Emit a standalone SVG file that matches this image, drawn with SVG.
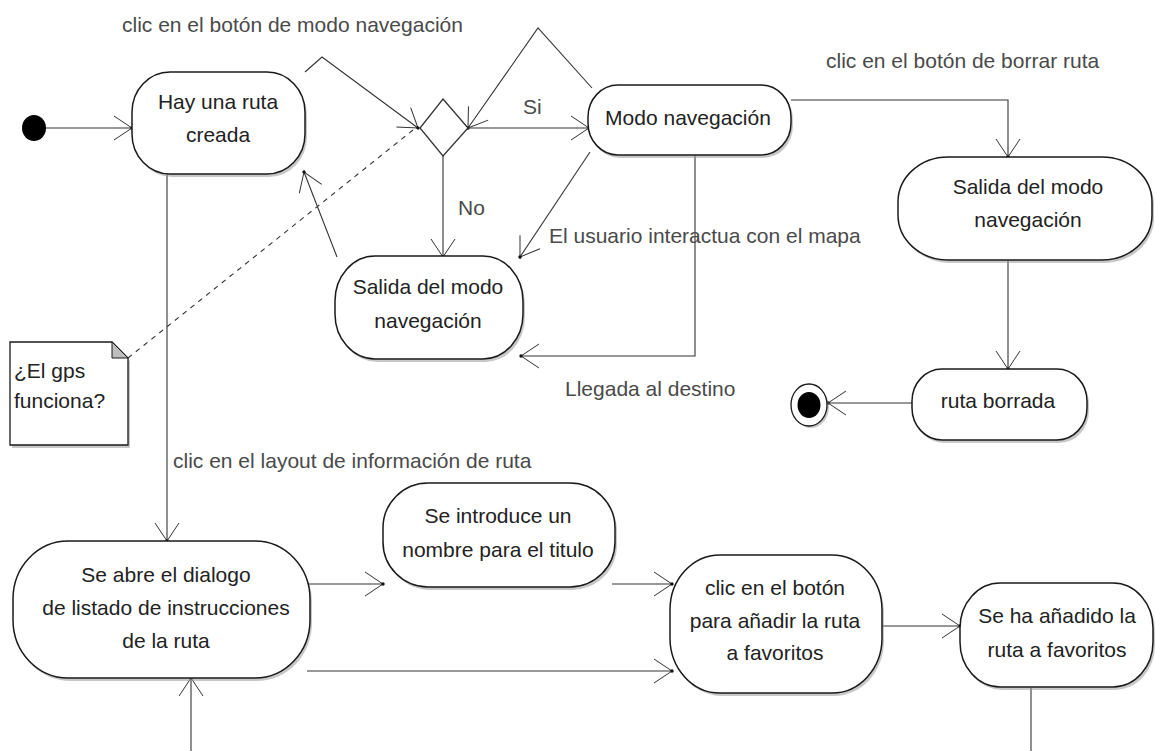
<svg xmlns="http://www.w3.org/2000/svg" width="1155" height="751" viewBox="0 0 1155 751">
<style>
.node rect.sh{fill:#9a9a9a;opacity:0.55}
.node rect.bx{fill:#fff;stroke:#1a1a1a;stroke-width:1.5}
.nt{font-family:"Liberation Sans",Arial,sans-serif;font-size:21px;fill:#222;text-anchor:middle}
.lbl{font-family:"Liberation Sans",Arial,sans-serif;font-size:21px;fill:#4a4a4a}
.c{fill:none;stroke:#333;stroke-width:1.1}
.dash{stroke-dasharray:5 5}
</style>
<defs>
<marker id="arr" markerUnits="userSpaceOnUse" markerWidth="30" markerHeight="30" refX="0" refY="0" orient="auto" overflow="visible">
<path d="M-18,-12 L0,0 L-18,12" fill="none" stroke="#333" stroke-width="1"/>
<circle r="1.7" fill="#111"/>
</marker>
</defs>
<rect width="1155" height="751" fill="#fff"/>

<g id="connectors">
<path class="c" d="M46,128 L132,128" marker-end="url(#arr)"/>
<path class="c" d="M305,72 L322,57 L418,128" marker-end="url(#arr)"/>
<path class="c" d="M592,88 L538,28 L468,128" marker-end="url(#arr)"/>
<path class="c" d="M468,128 L589,128" marker-end="url(#arr)"/>
<path class="c" d="M443,156 L443,257" marker-end="url(#arr)"/>
<path class="c" d="M337,257 L304,172" marker-end="url(#arr)"/>
<path class="c dash" d="M128,358 L413,130"/>
<path class="c" d="M590,152 L520,257" marker-end="url(#arr)"/>
<path class="c" d="M695,155 L695,356 L521,356" marker-end="url(#arr)"/>
<path class="c" d="M791,100 L1008,100 L1008,157" marker-end="url(#arr)"/>
<path class="c" d="M1008,260 L1008,369" marker-end="url(#arr)"/>
<path class="c" d="M912,403 L828,403" marker-end="url(#arr)"/>
<path class="c" d="M167,174 L167,541" marker-end="url(#arr)"/>
<path class="c" d="M307,584 L383,584" marker-end="url(#arr)"/>
<path class="c" d="M612,584 L672,584" marker-end="url(#arr)"/>
<path class="c" d="M307,671 L672,671" marker-end="url(#arr)"/>
<path class="c" d="M880,626 L960,626" marker-end="url(#arr)"/>
<path class="c" d="M1031,688 L1031,751"/>
<path class="c" d="M191,751 L191,678" marker-end="url(#arr)"/>
</g>

<g id="labels">
<text class="lbl" x="122" y="32">clic en el botón de modo navegación</text>
<text class="lbl" x="523" y="114">Si</text>
<text class="lbl" x="458" y="215">No</text>
<text class="lbl" x="826" y="68">clic en el botón de borrar ruta</text>
<text class="lbl" x="549" y="243">El usuario interactua con el mapa</text>
<text class="lbl" x="565" y="396">Llegada al destino</text>
<text class="lbl" x="173" y="468">clic en el layout de información de ruta</text>
</g>

<g id="start">
<ellipse cx="34" cy="128" rx="12" ry="13" fill="#000"/>
</g>

<g id="decision">
<polygon points="443,99 468,128 443,156 420,128" fill="#fff" stroke="#333" stroke-width="1.3"/>
</g>

<g id="n-hay" class="node">
<rect class="sh" x="134" y="75" width="173" height="102" rx="38" ry="40"/>
<rect class="bx" x="132" y="72" width="173" height="102" rx="38" ry="40"/>
<text class="nt"><tspan x="218" y="109">Hay una ruta</tspan><tspan x="218" y="142">creada</tspan></text>
</g>

<g id="n-modo" class="node">
<rect class="sh" x="590" y="88" width="203" height="70" rx="30" ry="32"/>
<rect class="bx" x="588" y="85" width="203" height="70" rx="30" ry="32"/>
<text class="nt" x="688" y="125">Modo navegación</text>
</g>

<g id="n-salida1" class="node">
<rect class="sh" x="337" y="259" width="188" height="103" rx="40" ry="45"/>
<rect class="bx" x="335" y="256" width="188" height="103" rx="40" ry="45"/>
<text class="nt"><tspan x="428" y="294">Salida del modo</tspan><tspan x="428" y="328">navegación</tspan></text>
</g>

<g id="n-salida2" class="node">
<rect class="sh" x="900" y="160" width="254" height="103" rx="50" ry="45"/>
<rect class="bx" x="898" y="157" width="254" height="103" rx="50" ry="45"/>
<text class="nt"><tspan x="1028" y="194">Salida del modo</tspan><tspan x="1028" y="227">navegación</tspan></text>
</g>

<g id="n-borrada" class="node">
<rect class="sh" x="914" y="372" width="175" height="71" rx="30" ry="32"/>
<rect class="bx" x="912" y="369" width="175" height="71" rx="30" ry="32"/>
<text class="nt" x="998" y="408">ruta borrada</text>
</g>

<g id="end">
<ellipse cx="811" cy="407" rx="18" ry="21" fill="#9a9a9a" opacity="0.55"/>
<ellipse cx="809" cy="405" rx="18" ry="21" fill="#fff" stroke="#1a1a1a" stroke-width="1.3"/>
<ellipse cx="809" cy="405" rx="11.5" ry="13" fill="#000"/>
</g>

<g id="note">
<path d="M12,345 L114,345 L130,361 L130,448 L12,448 Z" fill="#9a9a9a" opacity="0.55"/>
<path d="M10,342 L112,342 L128,358 L128,445 L10,445 Z" fill="#fff" stroke="#1a1a1a" stroke-width="1.3"/>
<path d="M112,342 L112,358 L128,358 Z" fill="#bdbdbd" stroke="#1a1a1a" stroke-width="1"/>
<text class="lbl" style="fill:#222"><tspan x="14" y="378">¿El gps</tspan><tspan x="14" y="408">funciona?</tspan></text>
</g>

<g id="n-abre" class="node">
<rect class="sh" x="15" y="544" width="297" height="137" rx="55" ry="58"/>
<rect class="bx" x="13" y="541" width="297" height="137" rx="55" ry="58"/>
<text class="nt"><tspan x="166" y="582">Se abre el dialogo</tspan><tspan x="166" y="615">de listado de instrucciones</tspan><tspan x="166" y="648">de la ruta</tspan></text>
</g>

<g id="n-intro" class="node">
<rect class="sh" x="385" y="486" width="232" height="104" rx="45" ry="45"/>
<rect class="bx" x="383" y="483" width="232" height="104" rx="45" ry="45"/>
<text class="nt"><tspan x="498" y="523">Se introduce un</tspan><tspan x="498" y="557">nombre para el titulo</tspan></text>
</g>

<g id="n-clic" class="node">
<rect class="sh" x="672" y="558" width="212" height="138" rx="50" ry="55"/>
<rect class="bx" x="670" y="555" width="212" height="138" rx="50" ry="55"/>
<text class="nt"><tspan x="775" y="595">clic en el botón</tspan><tspan x="775" y="628">para añadir la ruta</tspan><tspan x="775" y="660">a favoritos</tspan></text>
</g>

<g id="n-anadido" class="node">
<rect class="sh" x="962" y="586" width="193" height="104" rx="40" ry="45"/>
<rect class="bx" x="960" y="583" width="193" height="104" rx="40" ry="45"/>
<text class="nt"><tspan x="1057" y="623">Se ha añadido la</tspan><tspan x="1057" y="657">ruta a favoritos</tspan></text>
</g>
</svg>
